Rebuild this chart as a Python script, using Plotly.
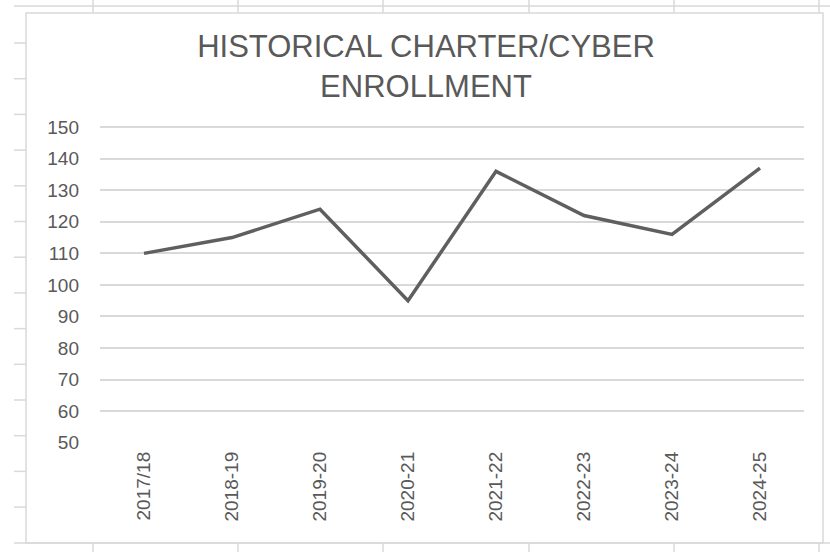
import plotly.graph_objects as go

# Enrollment by school year
years = ["2017/18", "2018-19", "2019-20", "2020-21", "2021-22", "2022-23", "2023-24", "2024-25"]
enrollment = [110, 115, 124, 95, 136, 122, 116, 137]
y_ticks = [50, 60, 70, 80, 90, 100, 110, 120, 130, 140, 150]

W, H = 830, 552
L, R, T, B = 100, 26, 124, 109  # plot-area margins in px
PW, PH = W - L - R, H - T - B

FONT = "Liberation Sans, Arial, sans-serif"
TEXT = "#595959"
GRID = "#d9d9d9"


def px_x(px):
    return (px - L) / PW


def px_y(py):
    return (H - B - py) / PH


fig = go.Figure(
    go.Scatter(
        x=years,
        y=enrollment,
        mode="lines",
        line=dict(color="#5f5f5f", width=3.5),
        hoverinfo="x+y",
    )
)

# Worksheet cell grid and chart-area border around the chart
shapes = []
line_style = dict(color=GRID, width=1.5)
col_x = [93, 238, 383, 529, 674, 819]
for cx in col_x:
    shapes.append(dict(type="line", xref="paper", yref="paper",
                       x0=px_x(cx), x1=px_x(cx), y0=px_y(0), y1=px_y(13), line=line_style))
    shapes.append(dict(type="line", xref="paper", yref="paper",
                       x0=px_x(cx), x1=px_x(cx), y0=px_y(543), y1=px_y(552), line=line_style))
shapes.append(dict(type="line", xref="paper", yref="paper",
                   x0=px_x(14), x1=px_x(830), y0=px_y(6), y1=px_y(6), line=line_style))
shapes.append(dict(type="line", xref="paper", yref="paper",
                   x0=px_x(14), x1=px_x(830), y0=px_y(543), y1=px_y(543), line=line_style))
for k in range(14):
    ry = 43 + 35.7 * k
    shapes.append(dict(type="line", xref="paper", yref="paper",
                       x0=px_x(14), x1=px_x(26), y0=px_y(ry), y1=px_y(ry), line=line_style))
shapes.append(dict(type="rect", xref="paper", yref="paper",
                   x0=px_x(26), x1=px_x(823), y0=px_y(13), y1=px_y(543),
                   line=dict(color=GRID, width=1.5), fillcolor="rgba(0,0,0,0)", layer="below"))

fig.update_layout(
    width=W,
    height=H,
    margin=dict(l=L, r=R, t=T, b=B, pad=0),
    paper_bgcolor="white",
    plot_bgcolor="white",
    showlegend=False,
    font=dict(family=FONT, color=TEXT),
    title=dict(
        text="HISTORICAL CHARTER/CYBER<br>ENROLLMENT",
        font=dict(family=FONT, size=31, color=TEXT),
        x=426 / W,
        xanchor="center",
        xref="container",
        y=1 - 57 / H,
        yanchor="top",
        yref="container",
    ),
    xaxis=dict(
        type="category",
        range=[-0.5, len(years) - 0.5],
        showgrid=False,
        showline=False,
        zeroline=False,
        ticks="",
        tickangle=-90,
        ticklabelstandoff=4,
        tickfont=dict(size=19, color=TEXT),
        fixedrange=True,
    ),
    yaxis=dict(
        range=[49.9, 151],
        tickvals=y_ticks,
        showgrid=True,
        gridcolor=GRID,
        gridwidth=1.5,
        zeroline=False,
        showline=False,
        ticks="",
        ticklabelstandoff=20,
        tickfont=dict(size=19, color=TEXT),
        fixedrange=True,
    ),
    shapes=shapes,
)

fig.write_html("out.html")
